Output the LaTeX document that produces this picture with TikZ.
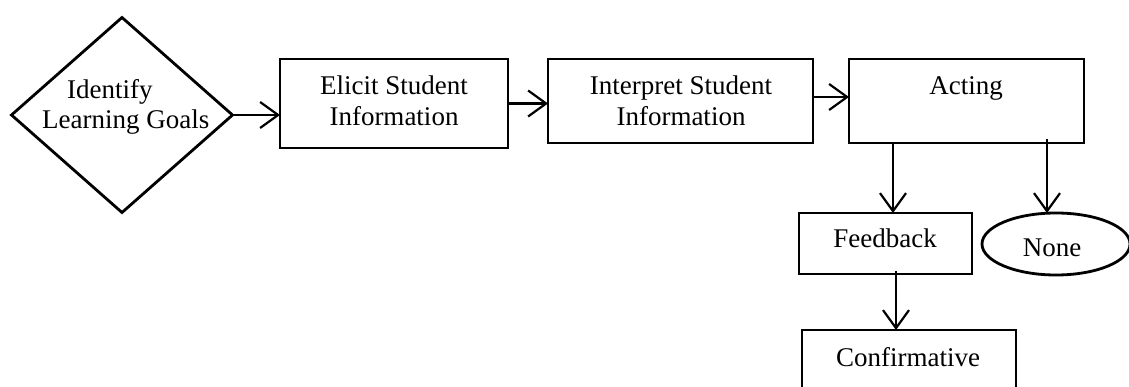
\documentclass[tikz,border=0pt]{standalone}
\usepackage{fontspec}
\setmainfont{Liberation Serif}
\usetikzlibrary{shapes.geometric,arrows.meta}
\begin{document}
\begin{tikzpicture}[x=1pt,y=-1pt,
  box/.style={draw,line width=2.8pt,rectangle,inner sep=0pt,outer sep=0pt},
  lbl/.style={font=\fontsize{27}{30.5}\selectfont,inner sep=0pt,anchor=base,align=center},
  arr/.style={line width=2.2pt,-{Straight Barb[length=18pt,width=26pt,line width=2.2pt]}}]
\useasboundingbox (0,0) rectangle (1129,387);
\clip (0,0) rectangle (1129,387);
% shapes
\node[draw,line width=2.8pt,shape=diamond,minimum width=221pt,minimum height=195pt,inner sep=0pt,outer sep=0pt] (goal) at (122,115) {};
\node[box,minimum width=228pt,minimum height=89pt] (elicit) at (394,103.5) {};
\node[box,minimum width=265pt,minimum height=84pt] (interp) at (680.5,101) {};
\node[box,minimum width=235pt,minimum height=84pt] (acting) at (966.5,101) {};
\node[box,minimum width=173pt,minimum height=61pt] (feed) at (885.5,243.5) {};
\node[draw,line width=2.8pt,shape=ellipse,minimum width=148pt,minimum height=62pt,inner sep=0pt,outer sep=0pt] (none) at (1056,244) {};
\node[box,minimum width=214pt,minimum height=90pt] (conf) at (909,375) {};
% texts
\node[lbl,anchor=base west] (tg1) at (67,99) {Identify};
\node[lbl,anchor=base west] (tg2) at (42,129) {Learning Goals};
\node[lbl] (te1) at (394,95) {Elicit Student};
\node[lbl] (te2) at (394,126) {Information};
\node[lbl] (ti1) at (681,95) {Interpret Student};
\node[lbl] (ti2) at (681,126) {Information};
\node[lbl] (ta) at (966,95) {Acting};
\node[lbl] (tf) at (885,248) {Feedback};
\node[lbl] (tn) at (1052,257) {None};
\node[lbl] (tc) at (908,366) {Confirmative};
% connectors
\draw[arr] (goal.east) -- (goal.east -| elicit.west);
\draw[arr] (elicit.east) -- (elicit.east -| interp.west);
\draw[arr] ([yshift=4pt]interp.east) -- ([yshift=4pt]interp.east -| acting.west);
\draw[arr] ([xshift=44pt]acting.south west) -- ([xshift=44pt]acting.south west |- feed.north);
\draw[arr] ([xshift=-9pt,yshift=4pt]none.north |- acting.south) -- ([xshift=-9pt]none.north);
\draw[arr] ([xshift=10.5pt,yshift=3pt]feed.south) -- ([xshift=10.5pt]feed.south |- conf.north);
\end{tikzpicture}
\end{document}
